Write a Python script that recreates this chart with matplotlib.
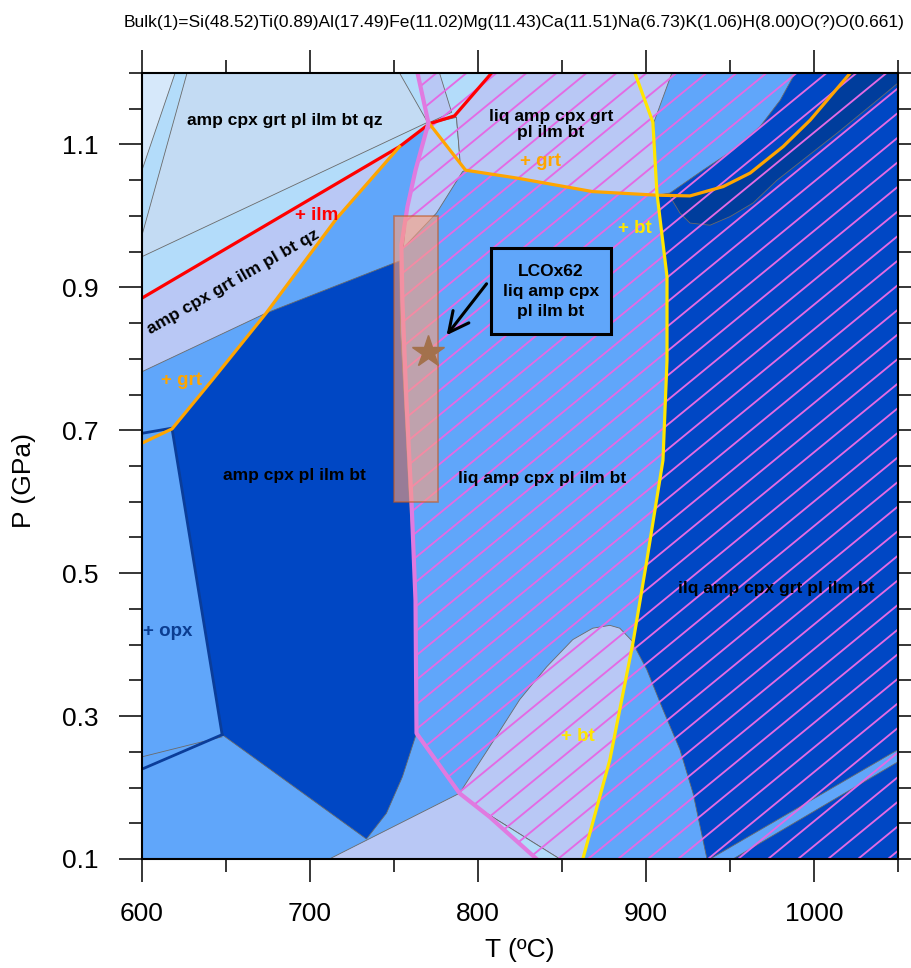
import matplotlib.pyplot as plt
import numpy as np
from matplotlib.patches import Polygon, Rectangle
from matplotlib import font_manager

plt.rcParams['font.family'] = ['Liberation Sans', 'DejaVu Sans']

title = ('Bulk(1)=Si(48.52)Ti(0.89)Al(17.49)Fe(11.02)Mg(11.43)Ca(11.51)'
         'Na(6.73)K(1.06)H(8.00)O(?)O(0.661)')

# phase fields, (T in degC, P in GPa)
sky_field = [(600, 1.2), (808.1, 1.2), (786, 1.14), (771.1, 1.129), (753.3, 1.097), (600, 0.885)]
sky_corner = [(771.1, 1.129), (787.2, 1.138), (789.6, 1.069), (792.6, 1.064)]
pale_corner = [(600, 1.2), (619.7, 1.2), (600, 1.064)]
qz_field = [(626.8, 1.2), (753.3, 1.2), (770, 1.131), (600, 0.943), (600, 0.973)]
ilm_field = [(600, 0.885), (753.3, 1.097), (715.7, 0.996), (673.9, 0.864), (600, 0.782)]
liq_strip = [(764, 1.2), (777.1, 1.2), (784.3, 1.145), (770.5, 1.13)]
liq_grt_field = [(808.1, 1.2), (915.4, 1.2), (904.7, 1.131), (906.5, 1.029), (868.3, 1.034),
                 (823, 1.053), (792.6, 1.064), (789.6, 1.069), (787.2, 1.138), (786, 1.14)]
liq_wedge = [(771.1, 1.129), (792.6, 1.064), (790.8, 1.062), (775.3, 1.004), (755.5, 0.955),
             (758, 1.013), (762.8, 1.064), (770.5, 1.13)]
sub_dark = [(673.9, 0.864), (753.3, 0.937), (753.9, 0.840), (756.2, 0.742), (759.2, 0.602),
            (761.6, 0.518), (763.4, 0.462), (763.4, 0.276), (755, 0.215), (745.5, 0.164),
            (733.6, 0.128), (647.7, 0.274), (617.9, 0.702), (641.7, 0.770)]
hot_dark = [(988.8, 1.2), (979.9, 1.162), (967.9, 1.125), (951.8, 1.092), (933.9, 1.064),
            (914.3, 1.032), (906.5, 1.029), (912.5, 0.915), (912.5, 0.798), (910.1, 0.658),
            (900.5, 0.518), (892.2, 0.402), (900.5, 0.365), (910.1, 0.309), (920.2, 0.253),
            (928, 0.192), (936.3, 0.1), (1050, 0.1), (1050, 1.2)]
navy_band = [(914.3, 1.027), (926.2, 1.028), (945.9, 1.041), (962, 1.060), (981.6, 1.097),
             (997.7, 1.134), (1021.6, 1.2), (1050, 1.2), (1050, 1.186), (1037.7, 1.162),
             (1013.8, 1.116), (995.9, 1.083), (978, 1.050), (963.7, 1.018), (950, 0.999),
             (938.1, 0.987), (926.2, 0.990), (920.2, 1.004)]
bump_field = [(789, 0.192), (806.9, 0.257), (824.8, 0.323), (840.9, 0.369), (856.4, 0.407),
              (868.3, 0.423), (878.5, 0.427), (884.4, 0.423), (892.2, 0.404), (878.5, 0.239),
              (862.4, 0.1), (848.7, 0.1), (805.1, 0.164)]
sky_sliver = [(806.9, 0.159), (834.9, 0.1), (848.7, 0.1), (805.1, 0.164)]
low_field = [(711.5, 0.1), (789, 0.192), (806.9, 0.159), (834.9, 0.1)]
hot_sliver = [(938.1, 0.1), (1050, 0.253), (1050, 0.236), (951.8, 0.1)]

# reaction lines
solidus_T = [764, 770.5, 762.8, 758, 754.4, 755, 757.4, 760.4, 762.8, 763.4, 789, 806.9, 834.9]
solidus_P = [1.2, 1.13, 1.064, 1.013, 0.959, 0.882, 0.742, 0.602, 0.462, 0.276, 0.192, 0.159, 0.1]
ilm_T = [600, 753.3, 771.1, 786, 808.1]
ilm_P = [0.885, 1.097, 1.129, 1.14, 1.2]
grt1_T = [600, 617.9, 641.7, 673.9, 715.7, 753.3]
grt1_P = [0.682, 0.702, 0.770, 0.864, 0.996, 1.097]
grt2_T = [771.1, 792.6, 823, 868.3, 906.5, 926.2, 945.9, 962, 981.6, 997.7, 1021.6]
grt2_P = [1.129, 1.064, 1.053, 1.034, 1.029, 1.028, 1.041, 1.060, 1.097, 1.134, 1.2]
bt_T = [893.4, 904.1, 906.5, 912.5, 912.5, 910.1, 900.5, 892.2, 878.5, 862.4]
bt_P = [1.2, 1.131, 1.032, 0.915, 0.798, 0.658, 0.518, 0.402, 0.239, 0.1]
opx_lines = [([600.6, 617.9], [0.696, 0.703]), ([601.2, 647.7], [0.227, 0.274]),
             ([617.9, 647.7], [0.702, 0.274])]
grey_line = ([600, 647.7], [0.243, 0.271])

# sample
sample_T = 770
sample_P = 0.81
sample_box_T = (750, 776)
sample_box_P = (0.6, 1.0)

labels = [
    ('amp cpx grt pl ilm bt qz', 684.7, 1.133, 'black', 12.5, 0),
    ('amp cpx grt ilm pl bt qz', 654.0, 0.907, 'black', 12.5, 29.8),
    ('+ ilm', 703.8, 1.0, '#ff0000', 13.5, 0),
    ('+ grt', 623.3, 0.770, '#ffa500', 13.5, 0),
    ('liq amp cpx grt\npl ilm bt', 843.3, 1.128, 'black', 12.5, 0),
    ('+ grt', 837.3, 1.076, '#ffa500', 13.5, 0),
    ('+ bt', 893.4, 0.983, '#ffe600', 13.5, 0),
    ('amp cpx pl ilm bt', 691.0, 0.637, 'black', 12.5, 0),
    ('liq amp cpx pl ilm bt', 837.9, 0.632, 'black', 12.5, 0),
    ('ilq amp cpx grt pl ilm bt', 977.5, 0.479, 'black', 12.5, 0),
    ('+ opx', 615.5, 0.418, '#0b3d91', 13.5, 0),
    ('+ bt', 859.4, 0.272, '#ffe600', 13.5, 0),
]

MED = '#60a6fa'
DARK = '#0047c4'
NAVY = '#003d9c'
LAV = '#b9c8f5'
SKY = '#b3dcfa'
QZ = '#c3dbf3'
PALE = '#d6e8fa'
EDGE = '#6a6a6a'
HATCH = '#e46ae4'

fig = plt.figure(figsize=(9.11, 9.68), dpi=100)
ax = fig.add_axes([142 / 911, 109 / 968, 756 / 911, 786 / 968])
ax.set_facecolor(MED)

fields = [(sky_field, SKY), (pale_corner, PALE), (qz_field, QZ), (ilm_field, LAV),
          (sky_corner, SKY), (liq_strip, LAV), (liq_grt_field, LAV), (liq_wedge, LAV),
          (sub_dark, DARK), (hot_dark, DARK), (navy_band, NAVY), (bump_field, LAV),
          (sky_sliver, SKY), (low_field, LAV), (hot_sliver, MED)]
for verts, col in fields:
    ax.add_patch(Polygon(verts, closed=True, facecolor=col, edgecolor=EDGE, lw=0.6, zorder=1))

# liquid-present hatching, right of the solidus
hatch_region = list(zip(solidus_T, solidus_P)) + [(1050, 0.1), (1050, 1.2)]
hatch_patch = Polygon(hatch_region, closed=True, facecolor='none', edgecolor='none', zorder=0)
ax.add_patch(hatch_patch)
W, H = 756.0, 786.0
slope = 0.82
for x0 in np.arange(26 - 30 * 40, W + 30, 30):
    ln, = ax.plot([x0 / W, (x0 + H / slope) / W], [0, 1], transform=ax.transAxes,
                  color=HATCH, lw=1.35, zorder=2)
    ln.set_clip_path(hatch_patch)

ax.plot(*grey_line, color=EDGE, lw=0.6, zorder=3)
for xs, ys in opx_lines:
    ax.plot(xs, ys, color='#0b3d99', lw=2.0, zorder=3)
ax.plot(ilm_T, ilm_P, color='#ff0000', lw=2.3, zorder=3)
ax.plot(grt1_T, grt1_P, color='#ffa500', lw=2.3, zorder=3)
ax.plot(grt2_T, grt2_P, color='#ffa500', lw=2.3, zorder=3)
ax.plot(bt_T, bt_P, color='#ffe600', lw=2.3, zorder=3)
ax.plot(solidus_T, solidus_P, color='#e07ae0', lw=3.0, zorder=3)

ax.add_patch(Rectangle((sample_box_T[0], sample_box_P[0]), sample_box_T[1] - sample_box_T[0],
                       sample_box_P[1] - sample_box_P[0], facecolor='#ffa07a', alpha=0.6,
                       edgecolor='#c0561e', lw=1.2, zorder=5))
ax.plot(sample_T, sample_P, marker='*', ms=24, color='#a3714c', zorder=6)

ax.add_patch(Rectangle((808, 0.835), 71, 0.12, facecolor=MED, edgecolor='black', lw=2.2, zorder=6))
ax.text(843.5, 0.894, 'LCOx62\nliq amp cpx\npl ilm bt', ha='center', va='center',
        fontsize=12.5, fontweight='bold', linespacing=1.4, zorder=7)
ax.annotate('', xy=(781.3, 0.833), xytext=(805.1, 0.905),
            arrowprops=dict(arrowstyle='->,head_length=1.2,head_width=0.6', lw=2.2,
                            color='black', mutation_scale=12, shrinkA=0, shrinkB=0), zorder=7)

for txt, t, p, col, fs, rot in labels:
    ax.text(t, p, txt, color=col, fontsize=fs, fontweight='bold', rotation=rot,
            rotation_mode='anchor', ha='center', va='center', linespacing=1.1, zorder=7)

ax.set_xlim(600, 1050)
ax.set_ylim(0.1, 1.2)
ax.set_xticks([600, 700, 800, 900, 1000])
ax.set_xticks(np.arange(600, 1051, 50), minor=True)
ax.set_yticks([0.1, 0.3, 0.5, 0.7, 0.9, 1.1])
ax.set_yticks(np.arange(0.1, 1.201, 0.05), minor=True)
ax.set_yticklabels(['0.1', '0.3', '0.5', '0.7', '0.9', '1.1'])
ax.tick_params(which='both', direction='out', top=True, right=True, width=1.1,
               labelsize=19, pad=14.5)
ax.tick_params(which='major', length=16.5)
ax.tick_params(which='minor', length=9.5)
for s in ax.spines.values():
    s.set_linewidth(1.5)
    s.set_zorder(10)

ax.set_xlabel('T (ºC)', fontsize=19, va='center')
ax.xaxis.set_label_coords(0.5, -0.1158)
ax.set_ylabel('P (GPa)', fontsize=19, va='center')
ax.yaxis.set_label_coords(-0.156, 0.482)

names = {f.name for f in font_manager.fontManager.ttflist}
if 'Liberation Sans Narrow' in names:
    fig.text(514.5 / 911, 1 - 22 / 968, title, ha='center', va='center', fontsize=15.3,
             family=['Liberation Sans Narrow', 'DejaVu Sans'])
else:
    fig.text(514.5 / 911, 1 - 22 / 968, title, ha='center', va='center', fontsize=12.5)

fig.savefig('out.png', dpi=100)
